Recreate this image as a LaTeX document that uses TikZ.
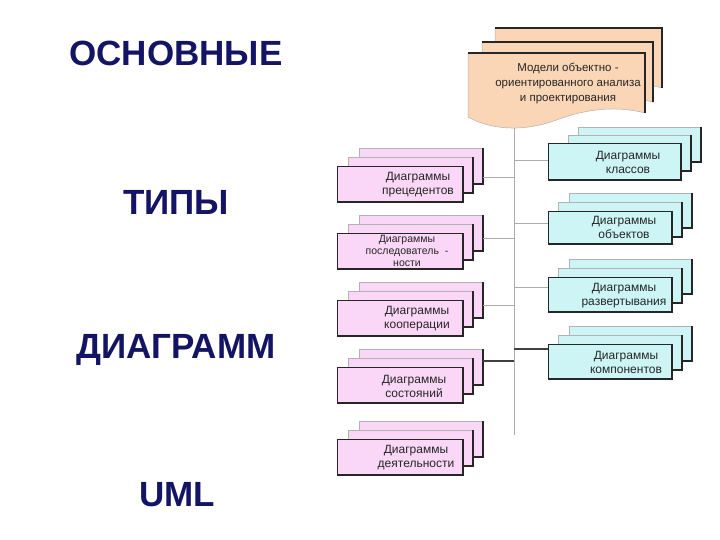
\documentclass[tikz,border=0pt]{standalone}
\usepackage{fontspec}
\setmainfont{Liberation Sans}
\definecolor{navy}{RGB}{20,20,100}
\definecolor{pinkf}{RGB}{250,215,247}
\definecolor{cyanf}{RGB}{205,245,245}
\definecolor{peachf}{RGB}{250,214,182}
\tikzset{
 layer/.style={draw=gray!60, line width=0.5pt, inner sep=0pt, outer sep=0pt, anchor=north west},
 frontlayer/.style={layer, draw=black!85, line width=0.7pt},
 shade line/.style={draw=black!85, line width=1.1pt},
 conn/.style={draw=gray!65, line width=0.8pt},
 connbold/.style={draw=black!75, line width=1.4pt},
 lbl/.style={font=\fontsize{12}{14}\selectfont, align=center, inner sep=0pt, text=black!85},
 lblsmall/.style={font=\fontsize{10.5}{12}\selectfont, align=center, inner sep=0pt, text=black!85},
 titletext/.style={font=\fontsize{35}{40}\selectfont\bfseries, text=navy, inner sep=0pt},
 docpath/.style={fill=peachf, draw=gray!60, line width=0.5pt},
}
\newcommand\mylayer[7]{%
 \node[#7, fill=#6, minimum width=#4pt, minimum height=#5pt] (#1) at (#2,#3) {};
 \draw[shade line] (#1.north east) -- (#1.south east) -- (#1.south west);
}
\newcommand\mydoc[3]{%
 \draw[docpath] (#1,#2) -- ({#1+#3},#2) -- ({#1+#3},{#2+60})
  .. controls ({#1+0.85*#3},{#2+53}) and ({#1+0.68*#3},{#2+55}) .. ({#1+0.5*#3},{#2+67})
  .. controls ({#1+0.3*#3},{#2+80}) and ({#1+0.12*#3},{#2+76}) .. (#1,{#2+64}) -- cycle;
 \draw[shade line] (#1,#2) -- ({#1+#3},#2) -- ({#1+#3},{#2+60});
}
\begin{document}
\begin{tikzpicture}[x=1pt,y=-1pt]
\useasboundingbox (0,0) rectangle (720,540);
\fill[white] (0,0) rectangle (720,540);

% titles
\node[titletext] (t1) at (176,53) {ОСНОВНЫЕ};
\node[titletext] (t2) at (176,202) {ТИПЫ};
\node[titletext] (t3) at (176,350) {ДИАГРАММ};
\node[titletext] (t4) at (177,495) {UML};

% trunk
\coordinate (trunktop) at (514,127);
\coordinate (trunkend) at (514,435);
\draw[conn] (trunktop) -- (trunkend);

% document stack
\mydoc{495}{28}{167}
\mydoc{482}{42}{171}
\mydoc{468}{53}{177}
\node[lbl, font=\fontsize{11.5}{15}\selectfont] (doctext) at (568,83) {Модели объектно -\\ориентированного анализа\\и проектирования};

% left stacks
\mylayer{Lb1}{359}{148}{124}{36}{pinkf}{layer}
\mylayer{Lm1}{348}{157}{125}{36}{pinkf}{layer}
\mylayer{Lf1}{337}{166}{126}{36}{pinkf}{frontlayer}
\node[lbl] (Lt1) at (418,185) {Диаграммы\\прецедентов};

\mylayer{Lb2}{359}{215}{124}{36}{pinkf}{layer}
\mylayer{Lm2}{348}{224}{125}{36}{pinkf}{layer}
\mylayer{Lf2}{337}{233}{126}{36}{pinkf}{frontlayer}
\node[lblsmall] (Lt2) at (407,251) {Диаграммы\\последователь\ \ -\\ности};

\mylayer{Lb3}{359}{282}{124}{36}{pinkf}{layer}
\mylayer{Lm3}{348}{291}{125}{36}{pinkf}{layer}
\mylayer{Lf3}{337}{300}{126}{36}{pinkf}{frontlayer}
\node[lbl] (Lt3) at (417,319) {Диаграммы\\кооперации};

\mylayer{Lb4}{359}{349}{124}{36}{pinkf}{layer}
\mylayer{Lm4}{348}{358}{125}{36}{pinkf}{layer}
\mylayer{Lf4}{337}{367}{126}{36}{pinkf}{frontlayer}
\node[lbl] (Lt4) at (414,386) {Диаграммы\\состояний};

\mylayer{Lb5}{359}{421}{124}{36}{pinkf}{layer}
\mylayer{Lm5}{348}{430}{125}{36}{pinkf}{layer}
\mylayer{Lf5}{337}{439}{126}{36}{pinkf}{frontlayer}
\node[lbl] (Lt5) at (416,458) {Диаграммы\\деятельности};

% right stacks
\mylayer{Rb1}{578}{127}{123}{35}{cyanf}{layer}
\mylayer{Rm1}{568}{135}{123}{36}{cyanf}{layer}
\mylayer{Rf1}{548}{143}{133}{37}{cyanf}{frontlayer}
\node[lbl] (Rt1) at (628,162) {Диаграммы\\классов};

\mylayer{Rb2}{569}{193}{123}{35}{cyanf}{layer}
\mylayer{Rm2}{558}{202}{124}{35}{cyanf}{layer}
\mylayer{Rf2}{548}{211}{124}{33}{cyanf}{frontlayer}
\node[lbl] (Rt2) at (624,227) {Диаграммы\\объектов};

\mylayer{Rb3}{569}{259}{123}{35}{cyanf}{layer}
\mylayer{Rm3}{558}{268}{124}{35}{cyanf}{layer}
\mylayer{Rf3}{548}{277}{124}{35}{cyanf}{frontlayer}
\node[lbl] (Rt3) at (624,296) {Диаграммы\\развертывания};

\mylayer{Rb4}{569}{326}{123}{35}{cyanf}{layer}
\mylayer{Rm4}{558}{335}{124}{35}{cyanf}{layer}
\mylayer{Rf4}{548}{344}{124}{35}{cyanf}{frontlayer}
\node[lbl] (Rt4) at (626,362) {Диаграммы\\компонентов};

% connectors left
\coordinate (cl1) at (514,177);
\coordinate (cl2) at (514,238);
\coordinate (cl3) at (514,305);
\coordinate (cl4) at (514,361);
\draw[conn] (cl1) -- (cl1 -| Lb1.east);
\draw[conn] (cl2) -- (cl2 -| Lb2.east);
\draw[conn] (cl3) -- (cl3 -| Lb3.east);
\draw[connbold] (cl4) -- (cl4 -| Lb4.east);

% connectors right
\coordinate (cr1) at (514,160);
\coordinate (cr2) at (514,223);
\coordinate (cr3) at (514,287);
\coordinate (cr4) at (514,349);
\draw[conn] (cr1) -- (cr1 -| Rf1.west);
\draw[conn] (cr2) -- (cr2 -| Rf2.west);
\draw[conn] (cr3) -- (cr3 -| Rf3.west);
\draw[connbold] (cr4) -- (cr4 -| Rf4.west);
\end{tikzpicture}
\end{document}
